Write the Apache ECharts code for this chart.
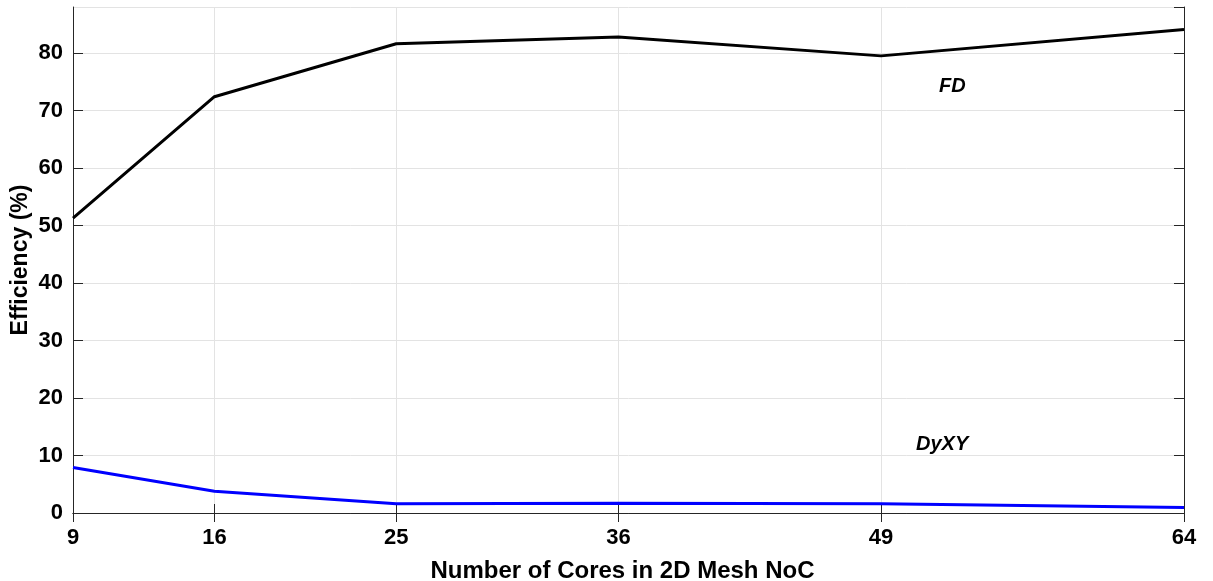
<!DOCTYPE html>
<html><head><meta charset="utf-8">
<script src="https://cdn.jsdelivr.net/npm/echarts@6/dist/echarts.min.js"></script>
<style>html,body{margin:0;padding:0;background:#fff}#c{width:1213px;height:581px}</style>
</head><body><div id="c"></div>
<script>
const cores = [9, 16, 25, 36, 49, 64];
const fd = [51.3, 72.4, 81.6, 82.8, 79.5, 84.1];
const dyxy = [7.9, 3.8, 1.6, 1.7, 1.6, 0.95];
const xTicks = [9, 16, 25, 36, 49, 64];
const seriesNames = ['FD', 'DyXY'];

const font = 'Liberation Sans, Arial, sans-serif';
const axisColor = '#262626';
const gridColor = '#e3e3e3';
const pairs = a => cores.map((c, i) => [c, a[i]]);

const chart = echarts.init(document.getElementById('c'), null, {renderer: 'canvas'});
chart.setOption({
  animation: false,
  backgroundColor: '#fff',
  grid: {left: 73, right: 29, top: 7, bottom: 68, containLabel: false, outerBoundsMode: 'none'},
  xAxis: [{
    type: 'value', min: 9, max: 64, position: 'bottom',
    name: 'Number of Cores in 2D Mesh NoC', nameLocation: 'middle', nameGap: 46,
    nameTextStyle: {fontFamily: font, fontWeight: 'bold', fontSize: 24, color: '#000', padding: [0, 12, 0, 0]},
    axisLine: {show: true, lineStyle: {color: axisColor, width: 1}},
    axisTick: {show: true, inside: true, length: 9, customValues: xTicks, lineStyle: {color: axisColor}},
    axisLabel: {customValues: xTicks, fontFamily: font, fontWeight: 'bold', fontSize: 22, color: '#000', margin: 14},
    splitLine: {show: true, lineStyle: {color: gridColor, width: 1}}
  }, {
    type: 'value', min: 9, max: 64, position: 'top',
    axisLine: {show: true, lineStyle: {color: axisColor, width: 1}},
    axisTick: {show: true, inside: true, length: 9, customValues: xTicks, lineStyle: {color: axisColor}},
    axisLabel: {show: false},
    splitLine: {show: false}
  }],
  yAxis: [{
    type: 'value', min: 0, max: 88, interval: 10, position: 'left',
    name: 'Efficiency (%)', nameLocation: 'middle', nameGap: 41, nameMoveOverlap: false,
    nameTextStyle: {fontFamily: font, fontWeight: 'bold', fontSize: 23, color: '#000'},
    axisLine: {show: true, lineStyle: {color: axisColor, width: 1}},
    axisTick: {show: true, inside: true, length: 10, lineStyle: {color: axisColor}},
    axisLabel: {fontFamily: font, fontWeight: 'bold', fontSize: 22, color: '#000', margin: 10, showMaxLabel: false},
    splitLine: {show: true, lineStyle: {color: gridColor, width: 1}}
  }, {
    type: 'value', min: 0, max: 88, interval: 10, position: 'right',
    axisLine: {show: true, lineStyle: {color: axisColor, width: 1}},
    axisTick: {show: true, inside: true, length: 10, lineStyle: {color: axisColor}},
    axisLabel: {show: false},
    splitLine: {show: false}
  }],
  series: [{
    name: seriesNames[0], type: 'line', data: pairs(fd), showSymbol: false, symbol: 'none',
    lineStyle: {color: '#000', width: 3}, z: 3
  }, {
    name: seriesNames[1], type: 'line', data: pairs(dyxy), showSymbol: false, symbol: 'none',
    lineStyle: {color: '#0000ff', width: 3}, z: 3
  }],
  graphic: [{
    type: 'text', left: 939, top: 76,
    style: {text: 'FD', font: 'italic bold 20px ' + font, fill: '#000'}
  }, {
    type: 'text', left: 916, top: 434,
    style: {text: 'DyXY', font: 'italic bold 20px ' + font, fill: '#000'}
  }]
});
</script></body></html>
